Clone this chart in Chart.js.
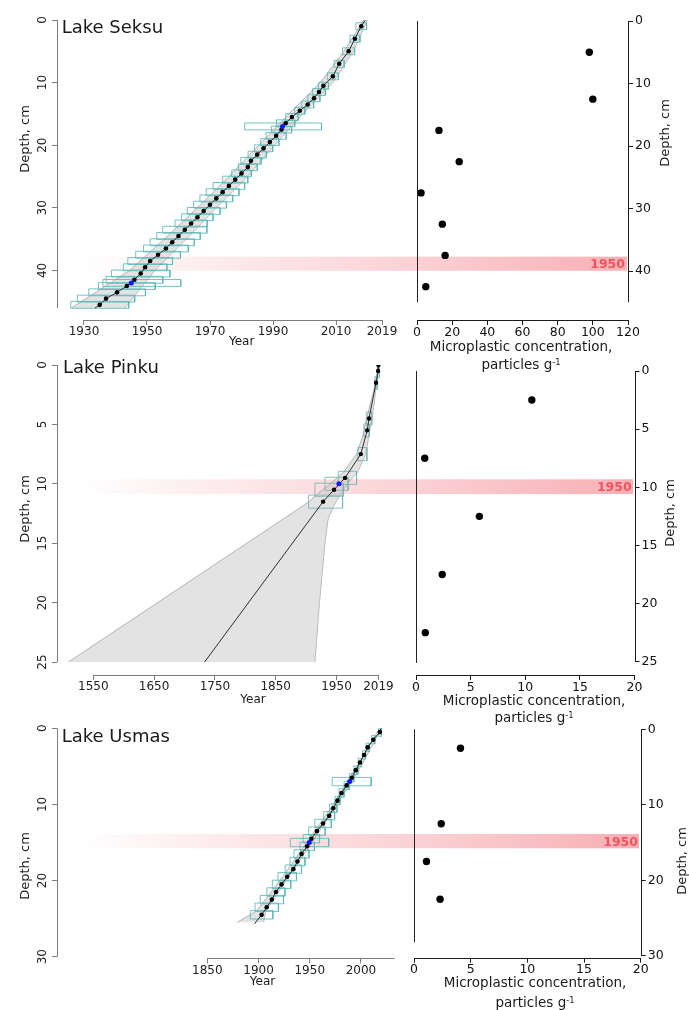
<!DOCTYPE html>
<html><head><meta charset="utf-8"><title>Age-depth models and microplastic concentration</title>
<script src="https://cdn.jsdelivr.net/npm/chart.js@4/dist/chart.umd.min.js"></script>
<style>
html,body{margin:0;padding:0;background:#fff;}
#fig{position:relative;width:689px;height:1010px;overflow:hidden;background:#fff;font-family:"DejaVu Sans",Verdana,sans-serif;color:#1a1a1a;}
#fig canvas{position:absolute;left:0;top:0;}
.t{position:absolute;white-space:nowrap;line-height:1;}
.c{transform:translateX(-50%);}
.v{transform:translate(-50%,-50%) rotate(-90deg);font-size:13px;}
.r{color:rgb(240,85,95);font-weight:bold;font-size:12.5px;}
.m{font-size:13.5px;}
sup{font-size:0.62em;vertical-align:0.5em;line-height:0;}
</style></head><body>
<div id="fig">
<canvas id="cA" width="689" height="1010"></canvas>
<canvas id="cB" width="689" height="1010"></canvas>
<canvas id="cC" width="689" height="1010"></canvas>
<canvas id="cD" width="689" height="1010"></canvas>
<canvas id="cE" width="689" height="1010"></canvas>
<canvas id="cF" width="689" height="1010"></canvas>

<div class="t" style="left:61.7px;top:18.1px;font-size:18px;">Lake Seksu</div>
<div class="t" style="left:63px;top:357.5px;font-size:18px;">Lake Pinku</div>
<div class="t" style="left:61.7px;top:726.5px;font-size:18px;">Lake Usmas</div>

<div class="t c" style="left:241.7px;top:334.8px;font-size:12px;">Year</div>
<div class="t c" style="left:253px;top:693.2px;font-size:12px;">Year</div>
<div class="t c" style="left:262.5px;top:974.8px;font-size:12px;">Year</div>

<div class="t v" style="left:24px;top:139px;">Depth, cm</div>
<div class="t v" style="left:24px;top:509px;">Depth, cm</div>
<div class="t v" style="left:24px;top:865.7px;">Depth, cm</div>
<div class="t v" style="left:664px;top:133.3px;">Depth, cm</div>
<div class="t v" style="left:669px;top:512.5px;">Depth, cm</div>
<div class="t v" style="left:681px;top:860.5px;">Depth, cm</div>

<div class="t c m" style="left:521px;top:339.8px;">Microplastic concentration,</div>
<div class="t c m" style="left:521px;top:357.6px;">particles g<sup>-1</sup></div>
<div class="t c m" style="left:534px;top:693.6px;">Microplastic concentration,</div>
<div class="t c m" style="left:534px;top:710.6px;">particles g<sup>-1</sup></div>
<div class="t c m" style="left:535px;top:975.8px;">Microplastic concentration,</div>
<div class="t c m" style="left:535px;top:995.6px;">particles g<sup>-1</sup></div>

<div class="t r" style="right:64px;top:257.7px;">1950</div>
<div class="t r" style="right:57.3px;top:481.1px;">1950</div>
<div class="t r" style="right:51px;top:836.1px;">1950</div>
</div>
<script>
// ---------------- DATA ----------------
// Lake Seksu – age-depth model
const seksuDepth = [1,3,5,7,9,10.5,11.5,12.5,13.5,14.5,15.5,16.5,17.5,18.5,19.5,20.5,21.5,22.5,23.5,24.5,25.5,26.5,27.5,28.5,29.5,30.5,31.5,32.5,33.5,34.5,35.5,36.5,37.5,38.5,39.5,40.5,41.5,42.5,43.5,44.5,45.5];
const seksuYear = [2018,2016,2014,2011,2009,2006,2004.6,2003,2001,1998.5,1996,1994,1992.7,1991,1989,1987,1985,1983,1982,1980,1978,1976,1974,1972,1970,1968,1966,1964,1962,1960,1958,1956,1953.5,1951,1949.4,1948,1946,1943.6,1940.5,1937,1935];
const seksuBoxHalf = [1.7,1.6,1.9,1.6,1.75,1.6,2,1.9,1.9,1.6,2,2.9,3.2,3.2,2.9,2.9,2.9,3.2,3,3.1,4,5,5.2,5.2,5.2,5.2,5,5.1,7,6.9,7,7.1,7.1,7.1,6.9,9.3,9,9,9,9.1,9.2];
const seksuDatedDepth = [17, 42];
const seksuDatedYear = [1993, 1945];
const seksuDatedLo = [1981, 1936];
const seksuDatedHi = [2005.4, 1960.7];
const seksuEnvDepth = [0,5,10,15,20,25,30,35,40,46];
const seksuEnvMin = [2018.8,2012.5,2005,1995,1985.5,1976,1966,1955.5,1944.5,1926];
const seksuEnvMax = [2020,2015.5,2009,1999.5,1990.5,1982,1972,1962.5,1952.5,1943];
const seksuLineEndDepth = [0, 46];
const seksuLineEndYear = [2019.3, 1933.5];
const seksuBand = [37.8, 40.05];
const seksuYearTicks = [1930,1950,1970,1990,2010,2024.6];
const seksuYearLabels = ['1930','1950','1970','1990','2010','2019'];
const seksuDepthTicks = [0,10,20,30,40];
// Lake Seksu – microplastics
const seksuMpDepth = [5,12.5,17.5,22.5,27.5,32.5,37.5,42.5];
const seksuMp = [98,100,12.5,24,2.3,14.4,16,5];
const seksuMpTicks = [0,20,40,60,80,100,120];

// Lake Pinku – age-depth model
const pinkuDepth = [0,0.5,1.5,4.5,5.5,7.5,9.5,10.5,11.5];
const pinkuYear = [2019,2018.5,2015,2003.5,2000.5,1990,1964,1946,1928];
const pinkuBoxDepth = [0.5,1.5,4.5,5.5,7.5,9.5,10,10.5,11.5];
const pinkuBoxLo = [2017,2013,1999,1995,1985,1953,1931,1914.5,1904];
const pinkuBoxHi = [2020.5,2017,2008,2004,2000,1983,1969,1961,1960];
const pinkuDatedDepth = [10];
const pinkuDatedYear = [1954];
const pinkuEnvMinDepth = [0,2,4,6,7.5,9,10,11,11.5,25];
const pinkuEnvMin = [2019,2012,2002,1993,1983,1962,1940,1915,1905,1509];
const pinkuEnvMaxDepth = [0,4,7.5,9,10,11,12,13,15,20,25];
const pinkuEnvMax = [2019.5,2010,1998,1985,1968,1955,1944,1936,1931,1922,1914.5];
const pinkuLineEndDepth = [0, 25];
const pinkuLineEndYear = [2019, 1733];
const pinkuBand = [9.62, 10.86];
const pinkuYearTicks = [1550,1650,1750,1850,1950,2019];
const pinkuYearLabels = ['1550','1650','1750','1850','1950','2019'];
const pinkuDepthTicks = [0,5,10,15,20,25];
// Lake Pinku – microplastics
const pinkuMpDepth = [2.5,7.5,12.5,17.5,22.5];
const pinkuMp = [10.6,0.8,5.8,2.4,0.85];
const mpTicks20 = [0,5,10,15,20];

// Lake Usmas – age-depth model
const usmasDepth = [0.5,1.5,2.5,3.5,4.5,5.5,6.5,7.5,8.5,9.5,10.5,11.5,12.5,13.5,14.5,15.5,16.5,17.5,18.5,19.5,20.5,21.5,22.5,23.5,24.5];
const usmasYear = [2018.5,2012,2006.5,2003,1999,1995,1991,1986,1981,1977,1973,1969,1963,1957,1951.6,1947.5,1942,1938,1934,1928,1922.5,1917,1913,1908,1903];
const usmasBoxHalf = [1.5,1.5,1.5,1.5,1.5,2,2,2.5,2.5,2.5,3.6,5.3,8,8,8,7,7.3,7.3,8,9,9,8.8,11.4,11.4,11];
const usmasDatedDepth = [7, 15];
const usmasDatedYear = [1989, 1949.5];
const usmasDatedLo = [1972, 1931];
const usmasDatedHi = [2010, 1968.5];
const usmasEnvDepth = [0,5,10,15,20,24,25.5];
const usmasEnvMin = [2018,1996,1973,1947,1921,1898,1879];
const usmasEnvMax = [2020,2000,1977,1952,1927,1907,1905];
const usmasLineEndDepth = [0, 25.7];
const usmasLineEndYear = [2019.5, 1896];
const usmasBand = [13.88, 15.76];
const usmasYearTicks = [1850,1900,1950,2000];
const usmasYearLabels = ['1850','1900','1950','2000'];
const usmasDepthTicks = [0,10,20,30];
// Lake Usmas – microplastics
const usmasMpDepth = [2.5,12.5,17.5,22.5];
const usmasMp = [4.1,2.4,1.1,2.3];

// ---------------- STYLE / HELPERS ----------------
Chart.defaults.font.family = '"DejaVu Sans", Verdana, sans-serif';
Chart.defaults.color = '#1a1a1a';
const BOX_H = 0.55;
const ENV_FILL = 'rgba(200,200,200,0.5)';
const ENV_LINE = 'rgba(150,150,150,0.85)';
const BOX_COL = 'rgba(90,185,185,0.85)';
const AGE_AXIS = '#7d7d7d';
const MP_AXIS = '#1a1a1a';
const X_BOX = 30;   // height reserved for x tick labels
const Y_BOX = 40;   // width reserved for y tick labels

const xy = (xs, ys) => ys.map((y, i) => ({x: xs[i], y}));
const boxPts = (dep, lo, hi) => {
  const out = [];
  dep.forEach((d, i) => {
    out.push({x: lo[i], y: d - BOX_H}, {x: hi[i], y: d - BOX_H}, {x: hi[i], y: d + BOX_H},
             {x: lo[i], y: d + BOX_H}, {x: lo[i], y: d - BOX_H}, {x: NaN, y: NaN});
  });
  return out;
};

function scaleCfg(axis, o) {
  const s = {
    type: 'linear', position: o.position, min: o.min, max: o.max, reverse: !!o.reverse,
    border: {display: false},
    grid: {display: true, drawOnChartArea: false, drawTicks: true, tickLength: 5, color: o.color, lineWidth: 1},
    ticks: {autoSkip: false, font: {size: o.size}, color: o.textColor, padding: o.padding,
      callback: (v) => { const i = o.ticks.indexOf(v); return i < 0 ? '' : o.labels[i]; }},
    afterBuildTicks: (sc) => { sc.ticks = o.ticks.map(v => ({value: v})); },
    afterFit: (sc) => { if (axis === 'x') sc.height = X_BOX; else sc.width = Y_BOX; }
  };
  if (o.rot) { s.ticks.minRotation = 90; s.ticks.maxRotation = 90; s.ticks.crossAlign = 'center'; }
  return s;
}

const rAxes = {
  id: 'rAxes',
  afterDraw(chart, args, opts) {
    const ctx = chart.ctx, a = chart.chartArea, xs = chart.scales.x, ys = chart.scales.y;
    const al = v => Math.round(v) + 0.5;
    ctx.save();
    ctx.strokeStyle = opts.color; ctx.lineWidth = 1;
    ctx.beginPath();
    if (opts.x) { const y = al(a.bottom); ctx.moveTo(xs.getPixelForValue(opts.x[0]), y); ctx.lineTo(xs.getPixelForValue(opts.x[1]), y); }
    if (opts.y) { const x = al(ys.options.position === 'right' ? a.right : a.left);
      ctx.moveTo(x, ys.getPixelForValue(opts.y[0])); ctx.lineTo(x, ys.getPixelForValue(opts.y[1])); }
    ctx.stroke();
    if (opts.zero) {
      ctx.beginPath(); ctx.strokeStyle = opts.zeroColor || opts.color;
      const x = al(xs.getPixelForValue(0));
      ctx.moveTo(x, ys.getPixelForValue(opts.zero[0])); ctx.lineTo(x, ys.getPixelForValue(opts.zero[1]));
      ctx.stroke();
    }
    ctx.restore();
  }
};

const bandPlugin = {
  id: 'band',
  beforeDatasetsDraw(chart, args, opts) {
    if (!opts.range) return;
    const ctx = chart.ctx, ys = chart.scales.y;
    const y0 = ys.getPixelForValue(opts.range[0]), y1 = ys.getPixelForValue(opts.range[1]);
    const x0 = chart.chartArea.left + opts.inset, x1 = opts.right;
    const g = ctx.createLinearGradient(x0, 0, x1, 0);
    const mid = (400 - x0) / (x1 - x0);
    g.addColorStop(0, 'rgba(240,110,120,0)');
    g.addColorStop(mid * 0.4, 'rgba(240,110,120,0.13)');
    g.addColorStop(mid, 'rgba(240,110,120,0.30)');
    g.addColorStop(1, 'rgba(240,110,120,0.55)');
    ctx.save();
    ctx.fillStyle = g;
    ctx.fillRect(x0, Math.min(y0, y1), x1 - x0, Math.abs(y1 - y0));
    ctx.restore();
  }
};

const base = {responsive: false, animation: false, devicePixelRatio: 1, events: []};

function ageChart(id, o) {
  const datasets = [
    {data: xy(o.envMin, o.envMinDepth), fill: '+1', backgroundColor: ENV_FILL, borderColor: ENV_LINE, borderWidth: 0.8, pointRadius: 0, order: 5},
    {data: xy(o.envMax, o.envMaxDepth), fill: false, borderColor: ENV_LINE, borderWidth: 0.8, pointRadius: 0, order: 6},
    {data: boxPts(o.boxDepth, o.boxLo, o.boxHi), fill: false, borderColor: o.boxColor || BOX_COL, borderWidth: 1, pointRadius: 0, order: 3},
    {data: [{x: o.endYear[0], y: o.endDepth[0]}, ...xy(o.year, o.depth), {x: o.endYear[1], y: o.endDepth[1]}],
      fill: false, borderColor: '#2e2e2e', borderWidth: 1, pointRadius: 0, order: 2},
    {data: xy(o.year, o.depth), showLine: false, pointRadius: o.dotR || 2.3, pointBackgroundColor: '#000', pointBorderWidth: 0, order: 1},
    {data: xy(o.datedYear, o.datedDepth), showLine: false, pointRadius: 2.5, pointBackgroundColor: '#1515ff', pointBorderWidth: 0, order: 0}
  ];
  if (o.datedLo) datasets.push({data: boxPts(o.datedDepth, o.datedLo, o.datedHi), fill: false, borderColor: o.boxColor || BOX_COL, borderWidth: 1, pointRadius: 0, order: 3});
  return new Chart(document.getElementById(id), {
    type: 'line',
    data: {datasets},
    options: Object.assign({}, base, {
      indexAxis: 'y',
      layout: {padding: o.pad},
      scales: {
        x: scaleCfg('x', {position: 'bottom', min: o.xmin, max: o.xmax, ticks: o.xticks, labels: o.xlabels, size: 12, color: AGE_AXIS, textColor: '#222', padding: 0}),
        y: scaleCfg('y', {position: 'left', min: 0, max: o.ymax, reverse: true, ticks: o.yticks, labels: o.yticks.map(String), size: 12, color: AGE_AXIS, textColor: '#222', padding: 1, rot: true})
      },
      plugins: {legend: {display: false}, tooltip: {enabled: false},
        rAxes: {x: o.xline, y: o.yline, color: AGE_AXIS},
        band: {range: o.band, right: o.bandRight, inset: 20}}
    }),
    plugins: [bandPlugin, rAxes]
  });
}

function mpChart(id, o) {
  return new Chart(document.getElementById(id), {
    type: 'scatter',
    data: {datasets: [{data: xy(o.values, o.depth), pointRadius: 3.7, pointBackgroundColor: '#000', pointBorderWidth: 0}]},
    options: Object.assign({}, base, {
      layout: {padding: o.pad},
      scales: {
        x: scaleCfg('x', {position: 'bottom', min: 0, max: o.xmax, ticks: o.xticks, labels: o.xticks.map(String), size: 12.5, color: MP_AXIS, textColor: '#111', padding: 0}),
        y: scaleCfg('y', {position: 'right', min: 0, max: o.ymax, reverse: true, ticks: o.yticks, labels: o.yticks.map(String), size: 12.5, color: MP_AXIS, textColor: '#111', padding: 2})
      },
      plugins: {legend: {display: false}, tooltip: {enabled: false},
        rAxes: {x: [0, o.xmax], y: o.yline, zero: o.zero, color: MP_AXIS, zeroColor: '#222'}}
    }),
    plugins: [rAxes]
  });
}

const W = 689, H = 1010;
// chart-area edges (l,t,r,b) -> layout padding, leaving room for the tick-label boxes
const padL = (l, t, r, b) => ({left: l - Y_BOX, top: t, right: W - r, bottom: H - b - X_BOX});
const padR = (l, t, r, b) => ({left: l, top: t, right: W - r - Y_BOX, bottom: H - b - X_BOX});

// Row 1 – Lake Seksu
ageChart('cA', {
  pad: padL(57, 20, 382, 320), xmin: 1921.43, xmax: 2024.6, ymax: 47.92,
  xticks: seksuYearTicks, xlabels: seksuYearLabels, yticks: seksuDepthTicks,
  xline: [1930, 2024.6], yline: [0, 46],
  depth: seksuDepth, year: seksuYear,
  boxDepth: seksuDepth, boxLo: seksuYear.map((y, i) => y - seksuBoxHalf[i]), boxHi: seksuYear.map((y, i) => y + seksuBoxHalf[i]),
  datedDepth: seksuDatedDepth, datedYear: seksuDatedYear, datedLo: seksuDatedLo, datedHi: seksuDatedHi,
  envMinDepth: seksuEnvDepth, envMin: seksuEnvMin, envMaxDepth: seksuEnvDepth, envMax: seksuEnvMax,
  endDepth: seksuLineEndDepth, endYear: seksuLineEndYear,
  band: seksuBand, bandRight: 627
});
mpChart('cB', {
  pad: padR(417, 21, 628, 320), xmax: 120, ymax: 47.84,
  xticks: seksuMpTicks, yticks: seksuDepthTicks, yline: [0, 45], zero: [0, 45],
  depth: seksuMpDepth, values: seksuMp
});

// Row 2 – Lake Pinku
ageChart('cC', {
  pad: padL(57, 365, 390, 675), xmin: 1490.3, xmax: 2038.0, ymax: 26.09,
  xticks: pinkuYearTicks, xlabels: pinkuYearLabels, yticks: pinkuDepthTicks,
  xline: [1550, 2019], yline: [0, 25],
  depth: pinkuDepth, year: pinkuYear, dotR: 2.2,
  boxDepth: pinkuBoxDepth, boxLo: pinkuBoxLo, boxHi: pinkuBoxHi, boxColor: 'rgba(120,180,180,0.85)',
  datedDepth: pinkuDatedDepth, datedYear: pinkuDatedYear,
  envMinDepth: pinkuEnvMinDepth, envMin: pinkuEnvMin, envMaxDepth: pinkuEnvMaxDepth, envMax: pinkuEnvMax,
  endDepth: pinkuLineEndDepth, endYear: pinkuLineEndYear,
  band: pinkuBand, bandRight: 633
});
mpChart('cD', {
  pad: padR(416, 371, 634.5, 675), xmax: 20, ymax: 26.14,
  xticks: mpTicks20, yticks: pinkuDepthTicks, yline: [0, 25], zero: [0, 25.1],
  depth: pinkuMpDepth, values: pinkuMp
});

// Row 3 – Lake Usmas
ageChart('cE', {
  pad: padL(57, 728.3, 400, 958.3), xmin: 1703.3, xmax: 2038.1, ymax: 30.21,
  xticks: usmasYearTicks, xlabels: usmasYearLabels, yticks: usmasDepthTicks,
  xline: [1850, 2033], yline: [0, 30],
  depth: usmasDepth, year: usmasYear,
  boxDepth: usmasDepth, boxLo: usmasYear.map((y, i) => y - usmasBoxHalf[i]), boxHi: usmasYear.map((y, i) => y + usmasBoxHalf[i]),
  datedDepth: usmasDatedDepth, datedYear: usmasDatedYear, datedLo: usmasDatedLo, datedHi: usmasDatedHi,
  envMinDepth: usmasEnvDepth, envMin: usmasEnvMin, envMaxDepth: usmasEnvDepth, envMax: usmasEnvMax,
  endDepth: usmasLineEndDepth, endYear: usmasLineEndYear,
  band: usmasBand, bandRight: 639
});
mpChart('cF', {
  pad: padR(414, 729.3, 640.7, 957.7), xmax: 20, ymax: 30.25,
  xticks: mpTicks20, yticks: usmasDepthTicks, yline: [0, 30], zero: [0, 28.2],
  depth: usmasMpDepth, values: usmasMp
});
</script>
</body></html>
